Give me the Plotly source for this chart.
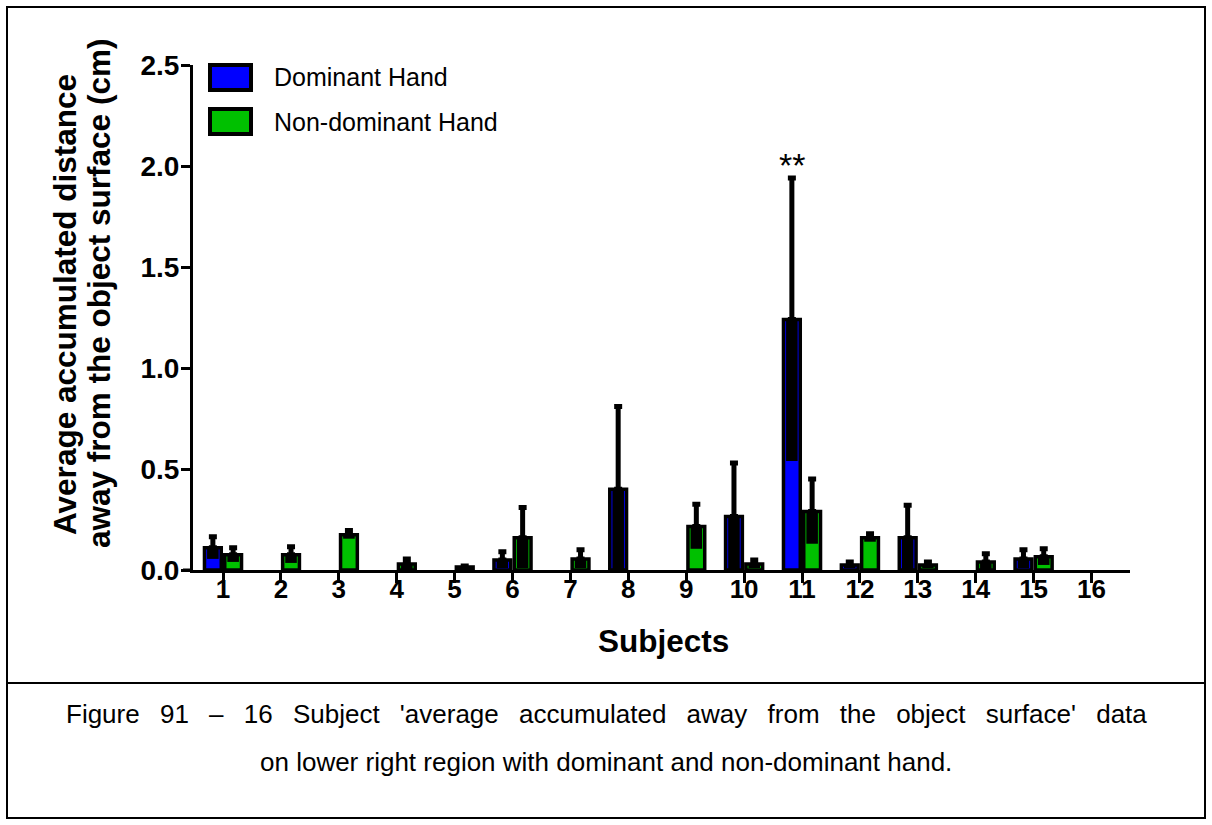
import plotly.graph_objects as go

subjects = list(range(1, 17))
tick_labels = [str(s) for s in subjects]

# Dominant hand: mean and SD
dom_mean = [0.11, 0, 0, 0, 0, 0.05, 0, 0.40, 0, 0.265, 1.24, 0.025, 0.16, 0, 0.055, 0]
dom_sd = [0.055, 0, 0, 0, 0, 0.04, 0, 0.41, 0, 0.265, 0.70, 0.015, 0.16, 0, 0.045, 0]
# Non-dominant hand: mean and SD
non_mean = [0.075, 0.075, 0.175, 0.03, 0.015, 0.16, 0.055, 0, 0.215, 0.03, 0.29, 0.16, 0.025, 0.04, 0.065, 0]
non_sd = [0.035, 0.04, 0.02, 0.025, 0.005, 0.15, 0.045, 0, 0.11, 0.02, 0.16, 0.02, 0.015, 0.04, 0.04, 0]

series_names = ["Dominant Hand", "Non-dominant Hand"]
colors = ["#0000FF", "#00C000"]

y_title_lines = ["Average accumulated distance", "away from the object surface (cm)"]
x_title = "Subjects"
caption_line1 = ["Figure", "91", "\u2013", "16", "Subject", "'average", "accumulated", "away",
                 "from", "the", "object", "surface'", "data"]
caption_line2 = "on lower right region with dominant and non-dominant hand."

FONT = "Liberation Sans, Arial, sans-serif"

def nz(vals, ref):
    return [v if r > 0 else None for v, r in zip(vals, ref)]

fig = go.Figure()
bar_w = 0.29
offsets = [-0.175 - bar_w / 2, 0.175 - bar_w / 2]
inner_w = 0.2

for name, col, mean, sd, off in zip(series_names, colors, [dom_mean, non_mean], [dom_sd, non_sd], offsets):
    fig.add_trace(go.Bar(
        x=subjects, y=nz(mean, mean), name=name, width=bar_w, offset=off,
        marker=dict(color=col, line=dict(color="black", width=3.5)),
        error_y=dict(type="data", symmetric=False, array=nz(sd, mean), arrayminus=[0] * len(sd),
                     color="black", thickness=5, width=4),
        showlegend=False,
    ))

# lower half of the error bar drawn inside each bar (black)
for mean, sd, off in zip([dom_mean, non_mean], [dom_sd, non_sd], offsets):
    base = [max(0.0, m - s) for m, s in zip(mean, sd)]
    h = [m - b for m, b in zip(mean, base)]
    fig.add_trace(go.Bar(
        x=subjects, y=nz(h, mean), base=base, width=inner_w,
        offset=[off + (bar_w - inner_w) / 2] * len(subjects),
        marker=dict(color="black", line=dict(width=0)),
        showlegend=False, hoverinfo="skip",
    ))

# significance marker above subject 11 dominant
fig.add_annotation(x=11 - 0.175, y=dom_mean[10] + dom_sd[10], text="**", showarrow=False,
                   yanchor="bottom", yshift=-8, font=dict(family=FONT, size=34, color="black"))

# layout geometry (pixels -> paper)
L, R, T, B = 193, 1130, 65, 570
W, H = R - L, B - T
px = lambda x: (x - L) / W
py = lambda y: (B - y) / H

shapes = []
shapes.append(dict(type="rect", xref="paper", yref="paper", x0=px(7), x1=px(1205), y0=py(818), y1=py(7),
                   line=dict(color="black", width=2)))
shapes.append(dict(type="line", xref="paper", yref="paper", x0=px(7), x1=px(1205), y0=py(683), y1=py(683),
                   line=dict(color="black", width=2)))
shapes.append(dict(type="line", xref="paper", yref="paper", x0=px(183), x1=0, y0=0, y1=0,
                   line=dict(color="black", width=3)))

# manual legend
leg_rows = [(65, 90, 77), (109, 134, 122)]
for (y0, y1, yc), name, col in zip(leg_rows, series_names, colors):
    shapes.append(dict(type="rect", xref="paper", yref="paper", x0=px(210), x1=px(251), y0=py(y1), y1=py(y0),
                       fillcolor=col, line=dict(color="black", width=4)))
    fig.add_annotation(xref="paper", yref="paper", x=px(272), y=py(yc), text=name, showarrow=False,
                       xanchor="left", yanchor="middle", font=dict(family=FONT, size=25, color="black"))

# axis titles
for txt, xc, yc in zip(y_title_lines, [65, 99], [305, 294]):
    fig.add_annotation(xref="paper", yref="paper", x=px(xc), y=py(yc), textangle=-90,
                       text="<b>%s</b>" % txt,
                       showarrow=False, xanchor="center", yanchor="middle",
                       font=dict(family=FONT, size=31.5, color="black"))
fig.add_annotation(xref="paper", yref="paper", x=px(663), y=py(641), text="<b>%s</b>" % x_title,
                   showarrow=False, xanchor="center", yanchor="middle",
                   font=dict(family=FONT, size=31.5, color="black"))

# caption (first line justified across the width)
gap = "\u2002 "
fig.add_annotation(xref="paper", yref="paper", x=px(606), y=py(714),
                   text=gap.join(caption_line1),
                   showarrow=False, xanchor="center", yanchor="middle",
                   font=dict(family=FONT, size=26, color="black"))
fig.add_annotation(xref="paper", yref="paper", x=px(606), y=py(762),
                   text=caption_line2,
                   showarrow=False, xanchor="center", yanchor="middle",
                   font=dict(family=FONT, size=26, color="black"))

fig.update_layout(
    width=1212, height=825,
    margin=dict(l=L, r=1212 - R, t=T, b=825 - B),
    paper_bgcolor="white", plot_bgcolor="white",
    barmode="overlay",
    shapes=shapes,
    font=dict(family=FONT, color="black"),
    xaxis=dict(range=[1 - 30 / 57.9, 1 + (R - 223) / 57.9], tickmode="array", tickvals=subjects,
               ticktext=["<b>%s</b>" % t for t in tick_labels],
               showline=True, linecolor="black", linewidth=3, ticks="outside", ticklen=10,
               tickwidth=3, tickcolor="black", showgrid=False, zeroline=False,
               ticklabelstandoff=-16,
               tickfont=dict(family=FONT, size=26, color="black")),
    yaxis=dict(range=[0, 2.5], tickvals=[0, 0.5, 1.0, 1.5, 2.0, 2.5],
               ticktext=["<b>0.0</b>", "<b>0.5</b>", "<b>1.0</b>", "<b>1.5</b>", "<b>2.0</b>", "<b>2.5</b>"],
               showline=True, linecolor="black", linewidth=3, ticks="outside", ticklen=9,
               tickwidth=3, tickcolor="black", showgrid=False, zeroline=False,
               ticklabelstandoff=-4,
               tickfont=dict(family=FONT, size=28, color="black")),
)

fig.write_html("out.html", config={"displayModeBar": False},
               post_script="document.body.style.margin='0px';")
